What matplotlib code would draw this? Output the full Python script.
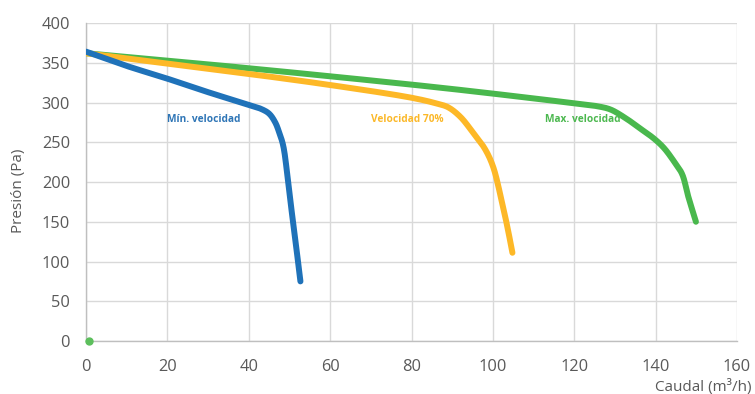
import matplotlib
matplotlib.use("Agg")
import matplotlib.pyplot as plt
import numpy as np

plt.rcParams['font.family'] = ['Open Sans', 'DejaVu Sans']

# Fan curves: flow (m3/h) vs pressure (Pa)
min_x = [0, 10, 20, 30, 40, 43, 45, 46.5, 47.5, 48.5, 50, 51.5, 52.7]
min_y = [364, 346, 330, 313, 297, 292, 286, 275, 262, 245, 185, 125, 75]

mid_x = [0, 20, 40, 60, 80, 86, 89, 92, 95, 98, 100, 102, 103.5, 104.8]
mid_y = [362, 349, 336, 322, 306, 299, 294, 282, 263, 242, 220, 180, 145, 111]

max_x = [0, 30, 60, 90, 120, 126, 129, 133, 136, 139.5, 142, 144.5, 146.5, 148, 149.9]
max_y = [362, 348, 333, 317, 299, 295, 291, 279, 268, 255, 243, 226, 210, 182, 150]

origin_point = (0.8, 0)

labels = ["Mín. velocidad", "Velocidad 70%", "Max. velocidad"]
label_x = [29, 79, 122]
label_y = [278, 278, 278]

colors = ["#1F72B9", "#FDB827", "#49B84D"]
label_colors = ["#2E75B6", "#FBB829", "#4CB84F"]

xticks = list(range(0, 161, 20))
yticks = list(range(0, 401, 50))


def smooth(xs, ys, sx=4.07, sy=0.795, n=20):
    """Centripetal Catmull-Rom curve through the points (smoothed line)."""
    P = np.column_stack([np.asarray(xs, float) * sx, np.asarray(ys, float) * sy])
    P = np.vstack([2 * P[0] - P[1], P, 2 * P[-1] - P[-2]])
    out = []
    for i in range(1, len(P) - 2):
        p0, p1, p2, p3 = P[i - 1], P[i], P[i + 1], P[i + 2]
        t0 = 0.0
        t1 = t0 + np.linalg.norm(p1 - p0) ** 0.5
        t2 = t1 + np.linalg.norm(p2 - p1) ** 0.5
        t3 = t2 + np.linalg.norm(p3 - p2) ** 0.5
        t = np.linspace(t1, t2, n)[:, None]
        a1 = (t1 - t) / (t1 - t0) * p0 + (t - t0) / (t1 - t0) * p1
        a2 = (t2 - t) / (t2 - t1) * p1 + (t - t1) / (t2 - t1) * p2
        a3 = (t3 - t) / (t3 - t2) * p2 + (t - t2) / (t3 - t2) * p3
        b1 = (t2 - t) / (t2 - t0) * a1 + (t - t0) / (t2 - t0) * a2
        b2 = (t3 - t) / (t3 - t1) * a2 + (t - t1) / (t3 - t1) * a3
        c = (t2 - t) / (t2 - t1) * b1 + (t - t1) / (t2 - t1) * b2
        out.append(c if i == 1 else c[1:])
    C = np.vstack(out)
    return C[:, 0] / sx, C[:, 1] / sy


fig = plt.figure(figsize=(7.55, 3.94), dpi=100)
ax = fig.add_axes([0.1139, 0.1345, 0.8623, 0.8071])

for xs, ys, c in zip([max_x, mid_x, min_x], [max_y, mid_y, min_y], [colors[2], colors[1], colors[0]]):
    sx_, sy_ = smooth(xs, ys)
    ax.plot(sx_, sy_, color=c, lw=4.3, solid_capstyle='round', solid_joinstyle='round', zorder=3)

ax.plot([origin_point[0]], [origin_point[1]], 'o', color="#5CBF5C", ms=5, zorder=4, clip_on=False)

for t, x, y, c in zip(labels, label_x, label_y, label_colors):
    ax.text(x, y, t, color=c, fontsize=7.3, fontweight='bold', ha='center', va='center', zorder=5)

ax.set_xlim(0, 160)
ax.set_ylim(0, 400)
ax.set_xticks(xticks)
ax.set_yticks(yticks)
ax.grid(True, color="#D9D9D9", lw=1)
ax.set_axisbelow(True)
for s in ['top', 'right']:
    ax.spines[s].set_visible(False)
for s in ['left', 'bottom']:
    ax.spines[s].set_color("#BFBFBF")
    ax.spines[s].set_linewidth(1)
ax.tick_params(length=0, labelsize=11.8, labelcolor="#595959")
ax.tick_params(axis='y', pad=11.5)
ax.tick_params(axis='x', pad=13)

fig.text(0.024, 0.515, "Presión (Pa)", fontsize=11, color="#595959",
         rotation=90, ha='center', va='center')
fig.text(0.995, 0.008, "Caudal (m³/h)", fontsize=11, color="#595959",
         ha='right', va='baseline')

fig.savefig("out.png", dpi=100)
